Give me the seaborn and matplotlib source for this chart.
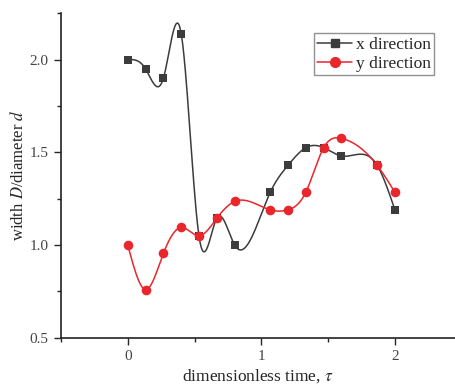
import numpy as np
import pandas as pd
import matplotlib
matplotlib.use("Agg")
import matplotlib.pyplot as plt
import seaborn as sns
from matplotlib.ticker import MultipleLocator
from matplotlib.lines import Line2D

# ---- data ----
tau_x = [0.0, 0.133, 0.267, 0.4, 0.533, 0.667, 0.8, 1.067, 1.2, 1.333, 1.467, 1.6, 1.867, 2.0]
x_dir = [2.00, 1.95, 1.90, 2.14, 1.05, 1.145, 1.00, 1.285, 1.43, 1.525, 1.525, 1.48, 1.43, 1.19]
tau_y = [0.0, 0.133, 0.267, 0.4, 0.533, 0.667, 0.8, 1.067, 1.2, 1.333, 1.467, 1.6, 1.867, 2.0]
y_dir = [1.00, 0.76, 0.955, 1.095, 1.05, 1.145, 1.235, 1.19, 1.19, 1.285, 1.525, 1.575, 1.43, 1.285]
series_names = ["x direction", "y direction"]
x_ticks = [0, 1, 2]
y_ticks = [0.5, 1.0, 1.5, 2.0]


def natural_spline(x, y, n=400):
    x = np.asarray(x, float); y = np.asarray(y, float)
    k = len(x); h = np.diff(x)
    A = np.zeros((k, k)); b = np.zeros(k)
    A[0, 0] = A[-1, -1] = 1
    for i in range(1, k - 1):
        A[i, i - 1] = h[i - 1]; A[i, i] = 2 * (h[i - 1] + h[i]); A[i, i + 1] = h[i]
        b[i] = 3 * ((y[i + 1] - y[i]) / h[i] - (y[i] - y[i - 1]) / h[i - 1])
    c = np.linalg.solve(A, b)
    xs = np.linspace(x[0], x[-1], n)
    idx = np.clip(np.searchsorted(x, xs) - 1, 0, k - 2)
    bb = (y[1:] - y[:-1]) / h - h * (2 * c[:-1] + c[1:]) / 3
    d = (c[1:] - c[:-1]) / (3 * h)
    t = xs - x[idx]
    ys = y[idx] + bb[idx] * t + c[idx] * t ** 2 + d[idx] * t ** 3
    return xs, ys


sns.set_style("ticks")
plt.rcParams["font.family"] = ["Liberation Serif", "DejaVu Serif"]
plt.rcParams["mathtext.fontset"] = "stix"

fig = plt.figure(figsize=(4.55, 3.87), dpi=100)
ax = fig.add_axes([0.134, 0.127, 0.866, 0.839])

c_x = "#3c3c3c"
c_y = "#e8262c"

sx, sy = natural_spline(tau_x, x_dir)
rx, ry = natural_spline(tau_y, y_dir)
sns.lineplot(x=sx, y=sy, ax=ax, color=c_x, lw=1.1, sort=False)
sns.lineplot(x=rx, y=ry, ax=ax, color=c_y, lw=1.1, sort=False)
sns.scatterplot(x=tau_x, y=x_dir, ax=ax, marker="s", color=c_x, s=38, linewidth=0, zorder=3)
sns.scatterplot(x=tau_y, y=y_dir, ax=ax, marker="o", color=c_y, s=48, linewidth=0, zorder=4)

ax.set_xlim(-0.5, 2.45)
ax.set_ylim(0.5, 2.25)
ax.set_xticks(x_ticks)
ax.set_yticks(y_ticks)
ax.set_yticklabels([f"{v:.1f}" for v in y_ticks])
ax.xaxis.set_minor_locator(MultipleLocator(0.5))
ax.yaxis.set_minor_locator(MultipleLocator(0.25))
ax.tick_params(which="major", direction="out", length=5, width=1, labelsize=11, labelcolor="#444444")
ax.tick_params(axis="y", which="major", pad=4)
ax.tick_params(which="minor", direction="out", length=3, width=1)
for s in ["top", "right"]:
    ax.spines[s].set_visible(False)
for s in ["left", "bottom"]:
    ax.spines[s].set_linewidth(1.2)
    ax.spines[s].set_color("#222222")

ax.set_xlabel(r"dimensionless time, $\tau$", fontsize=12.5, labelpad=3)
ax.set_ylabel(r"width $\mathit{D}$/diameter $\mathit{d}$", fontsize=12, labelpad=2)

handles = [Line2D([], [], color=c_x, marker="s", markersize=6, lw=1.1),
           Line2D([], [], color=c_y, marker="o", markersize=7, lw=1.1)]
leg = ax.legend(handles, series_names, loc="upper left", bbox_to_anchor=(0.642, 0.938),
                fontsize=12.5, frameon=True, fancybox=False, edgecolor="#777777",
                handlelength=2.0, handletextpad=0.2, borderpad=0.2, labelspacing=0.15,
                borderaxespad=0)
leg.get_frame().set_linewidth(1.0)

fig.savefig("out.png", dpi=100)
